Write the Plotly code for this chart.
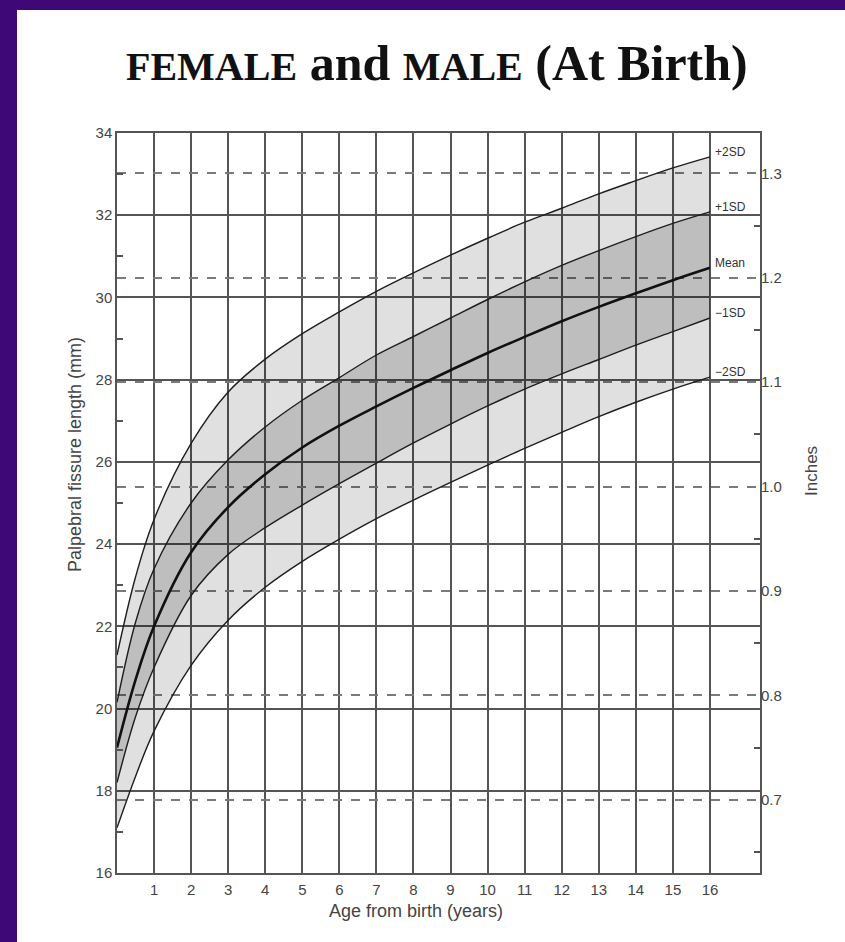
import plotly.graph_objects as go

# ---------------- data ----------------
ages = [0, 0.5, 1, 2, 3, 4, 5, 6, 7, 8, 9, 10, 11, 12, 13, 14, 15, 16]
minus2sd = [17.1, 18.35, 19.45, 21.05, 22.15, 22.95, 23.58, 24.12, 24.62, 25.07, 25.5, 25.92, 26.33, 26.72, 27.1, 27.45, 27.77, 28.06]
minus1sd = [18.2, 19.8, 21.0, 22.75, 23.75, 24.4, 24.95, 25.47, 25.97, 26.46, 26.92, 27.36, 27.77, 28.14, 28.49, 28.84, 29.17, 29.5]
mean = [19.05, 20.7, 22.0, 23.8, 24.9, 25.7, 26.35, 26.88, 27.35, 27.8, 28.23, 28.65, 29.04, 29.42, 29.77, 30.1, 30.42, 30.72]
plus1sd = [20.15, 22.1, 23.4, 25.0, 26.05, 26.85, 27.5, 28.05, 28.6, 29.05, 29.5, 29.95, 30.38, 30.78, 31.14, 31.48, 31.8, 32.08]
plus2sd = [21.3, 23.2, 24.6, 26.45, 27.7, 28.5, 29.12, 29.65, 30.15, 30.6, 31.03, 31.44, 31.83, 32.17, 32.52, 32.84, 33.15, 33.42]

curve_labels = ["+2SD", "+1SD", "Mean", "\u22121SD", "\u22122SD"]
x_ticks = list(range(1, 17))
mm_ticks = [16, 18, 20, 22, 24, 26, 28, 30, 32, 34]
mm_minor = [17, 19, 21, 23, 25, 27, 29, 31, 33]
inch_ticks = [0.7, 0.8, 0.9, 1.0, 1.1, 1.2, 1.3]
inch_minor = [0.65, 0.75, 0.85, 0.95, 1.05, 1.15, 1.25]
MM_PER_INCH = 25.4
mm_range = [16, 34]
x_range = [0, 17.35]

# ---------------- styles ----------------
PURPLE = "#3f0877"
GRID = "#555555"
LINE = "#1e1e1e"
TXT = "#444444"
SANS = "Liberation Sans, Arial, sans-serif"
SERIF = "Liberation Serif, Times New Roman, serif"

W, H = 845, 942
ML, MR, MT, MB = 117, 85, 133, 69
PW, PH = W - ML - MR, H - MT - MB


def px_x(px):
    return (px - ML) / PW


def px_y(py):
    return (H - MB - py) / PH


fig = go.Figure()

# outer +/-2SD band
fig.add_trace(go.Scatter(x=ages, y=minus2sd, mode="lines", line=dict(color=LINE, width=1.4, shape="spline"),
                         hoverinfo="skip", showlegend=False))
fig.add_trace(go.Scatter(x=ages, y=plus2sd, mode="lines", fill="tonexty", fillcolor="rgba(0,0,0,0.12)",
                         line=dict(color=LINE, width=1.4, shape="spline"), hoverinfo="skip", showlegend=False))
# inner +/-1SD band
fig.add_trace(go.Scatter(x=ages, y=minus1sd, mode="lines", line=dict(color=LINE, width=1.4, shape="spline"),
                         hoverinfo="skip", showlegend=False))
fig.add_trace(go.Scatter(x=ages, y=plus1sd, mode="lines", fill="tonexty", fillcolor="rgba(0,0,0,0.15)",
                         line=dict(color=LINE, width=1.4, shape="spline"), hoverinfo="skip", showlegend=False))
# mean
fig.add_trace(go.Scatter(x=ages, y=mean, mode="lines", line=dict(color="#111111", width=2.6, shape="spline"),
                         hoverinfo="skip", showlegend=False))
# invisible trace to activate the inches axis
fig.add_trace(go.Scatter(x=[x_range[1]], y=[mm_range[0] / MM_PER_INCH], yaxis="y2", mode="markers",
                         marker=dict(opacity=0), hoverinfo="skip", showlegend=False))

# curve end labels
ends = [plus2sd[-1], plus1sd[-1], mean[-1], minus1sd[-1], minus2sd[-1]]
for lab, yv in zip(curve_labels, ends):
    fig.add_annotation(x=ages[-1], y=yv, text=lab, xref="x", yref="y", showarrow=False,
                       xanchor="left", yanchor="middle", xshift=3, yshift=5,
                       font=dict(family=SANS, size=12, color="#333333"))

# title
fig.add_annotation(
    x=px_x(437), y=px_y(63), xref="paper", yref="paper", showarrow=False,
    xanchor="center", yanchor="middle",
    text="<b><span style='font-size:40px'>FEMALE</span> and <span style='font-size:40px'>MALE</span> (At Birth)</b>",
    font=dict(family=SERIF, size=50, color="#111111"))

# axis titles
fig.add_annotation(x=px_x(75), y=px_y(455), xref="paper", yref="paper", showarrow=False, textangle=-90,
                   xanchor="center", yanchor="middle",
                   text="Palpebral fissure length (mm)", font=dict(family=SANS, size=18, color=TXT))
fig.add_annotation(x=px_x(811), y=px_y(471), xref="paper", yref="paper", showarrow=False, textangle=-90,
                   xanchor="center", yanchor="middle",
                   text="Inches", font=dict(family=SANS, size=17, color=TXT))
fig.add_annotation(x=px_x(416), y=px_y(911), xref="paper", yref="paper", showarrow=False,
                   xanchor="center", yanchor="middle",
                   text="Age from birth (years)", font=dict(family=SANS, size=18, color=TXT))

# purple frame
fig.add_shape(type="rect", xref="paper", yref="paper", layer="below", line=dict(width=0), fillcolor=PURPLE,
              x0=px_x(0), x1=px_x(17), y0=px_y(H), y1=px_y(0))
fig.add_shape(type="rect", xref="paper", yref="paper", layer="below", line=dict(width=0), fillcolor=PURPLE,
              x0=px_x(0), x1=px_x(W), y0=px_y(10), y1=px_y(0))

fig.update_layout(
    width=W, height=H,
    margin=dict(l=ML, r=MR, t=MT, b=MB, pad=0),
    paper_bgcolor="white", plot_bgcolor="white",
    showlegend=False,
    xaxis=dict(range=x_range, tickvals=x_ticks, ticktext=[str(v) for v in x_ticks],
               showgrid=True, gridcolor=GRID, gridwidth=1.5, zeroline=False,
               showline=True, mirror=True, linecolor=GRID, linewidth=1.5,
               ticks="", ticklabelstandoff=2, tickfont=dict(family=SANS, size=15, color=TXT)),
    yaxis=dict(range=mm_range, tickvals=mm_ticks, showgrid=True, gridcolor=GRID, gridwidth=1.5,
               zeroline=False, showline=True, mirror=True, linecolor=GRID, linewidth=1.5,
               ticks="", tickfont=dict(family=SANS, size=15, color=TXT),
               minor=dict(tickvals=mm_minor, ticks="inside", ticklen=6, tickcolor=GRID, tickwidth=1.5,
                          showgrid=False)),
    yaxis2=dict(range=[mm_range[0] / MM_PER_INCH, mm_range[1] / MM_PER_INCH], overlaying="y", side="right",
                anchor="x", tickvals=inch_ticks, ticktext=["%.1f" % v for v in inch_ticks],
                showgrid=True, gridcolor="#7a7a7a", gridwidth=1.5, griddash="dash", zeroline=False,
                showline=False, ticks="", tickfont=dict(family=SANS, size=15, color=TXT),
                minor=dict(tickvals=inch_minor, ticks="inside", ticklen=6, tickcolor=GRID, tickwidth=1.5,
                           showgrid=False)),
)

fig.write_html("out.html")
